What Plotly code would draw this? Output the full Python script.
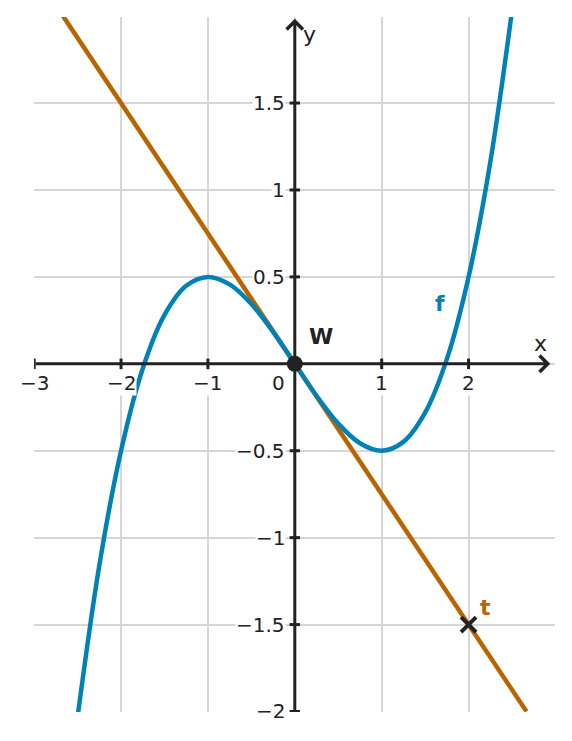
import plotly.graph_objects as go

f_x = [-2.5, -2.25, -2.0, -1.75, -1.5, -1.25, -1.0, -0.75, -0.5, -0.25, 0.0,
       0.25, 0.5, 0.75, 1.0, 1.25, 1.5, 1.75, 2.0, 2.25, 2.5]
f_y = [-2.031, -1.160, -0.5, -0.027, 0.281, 0.449, 0.5, 0.457, 0.344, 0.184, 0.0,
       -0.184, -0.344, -0.457, -0.5, -0.449, -0.281, 0.027, 0.5, 1.160, 2.031]
# tangent t through W
t_x = [-2.667, 2.667]
t_y = [2.0, -2.0]
W = (0.0, 0.0)
P = (2.0, -1.5)
x_ticks = [-3, -2, -1, 1, 2]
x_tick_labels = ["−3", "−2", "−1", "1", "2"]
y_ticks = [1.5, 1, 0.5, -0.5, -1, -1.5, -2]
y_tick_labels = ["1.5", "1", "0.5", "−0.5", "−1", "−1.5", "−2"]

BLUE = "#0082b6"
ORANGE = "#b86500"
DARK = "#222222"
FONT = "DejaVu Sans"
FS = 20

fig = go.Figure()
fig.add_trace(go.Scatter(x=t_x, y=t_y, mode="lines",
                         line=dict(color=ORANGE, width=4.5), hoverinfo="skip"))
fig.add_trace(go.Scatter(x=f_x, y=f_y, mode="lines",
                         line=dict(color=BLUE, width=4.5, shape="spline", smoothing=1.0),
                         hoverinfo="skip"))

shapes = []
# tick marks
for xv in x_ticks:
    shapes.append(dict(type="line", xref="x", yref="y", x0=xv, x1=xv, y0=-0.03, y1=0.03,
                       line=dict(color=DARK, width=3)))
for yv in y_ticks:
    shapes.append(dict(type="line", xref="x", yref="y", x0=-0.06, x1=0.06, y0=yv, y1=yv,
                       line=dict(color=DARK, width=3)))

annotations = []
# axes with arrows
annotations.append(dict(x=2.94, y=0, ax=-3.0, ay=0, xref="x", yref="y", axref="x", ayref="y",
                        showarrow=True, arrowhead=4, arrowsize=1.05, arrowwidth=3,
                        arrowcolor=DARK, text=""))
annotations.append(dict(x=0, y=1.985, ax=0, ay=-2.0, xref="x", yref="y", axref="x", ayref="y",
                        showarrow=True, arrowhead=4, arrowsize=1.05, arrowwidth=3,
                        arrowcolor=DARK, text=""))
for xv, lab in zip(x_ticks, x_tick_labels):
    annotations.append(dict(x=xv, y=-0.11, xref="x", yref="y", text=lab, showarrow=False,
                            font=dict(family=FONT, size=FS, color=DARK), bgcolor="white",
                            borderpad=0))
annotations.append(dict(x=-0.19, y=-0.11, xref="x", yref="y", text="0", showarrow=False,
                        font=dict(family=FONT, size=FS, color=DARK)))
for yv, lab in zip(y_ticks, y_tick_labels):
    annotations.append(dict(x=-0.1, y=yv, xref="x", yref="y", text=lab, showarrow=False,
                            xanchor="right", font=dict(family=FONT, size=FS, color=DARK),
                            bgcolor="white", borderpad=0))
annotations.append(dict(x=2.83, y=0.115, xref="x", yref="y", text="x", showarrow=False,
                        font=dict(family=FONT, size=22, color=DARK)))
annotations.append(dict(x=0.165, y=1.895, xref="x", yref="y", text="y", showarrow=False,
                        font=dict(family=FONT, size=22, color=DARK)))
annotations.append(dict(x=1.67, y=0.345, xref="x", yref="y", text="<b>f</b>", showarrow=False,
                        font=dict(family=FONT, size=22, color=BLUE)))
annotations.append(dict(x=2.2, y=-1.40, xref="x", yref="y", text="<b>t</b>", showarrow=False,
                        font=dict(family=FONT, size=22, color=ORANGE)))
annotations.append(dict(x=0.30, y=0.155, xref="x", yref="y", text="<b>W</b>", showarrow=False,
                        font=dict(family=FONT, size=22, color=DARK)))

fig.add_trace(go.Scatter(x=[W[0]], y=[W[1]], mode="markers",
                         marker=dict(color=DARK, size=16), hoverinfo="skip"))
fig.add_trace(go.Scatter(x=[P[0]], y=[P[1]], mode="markers",
                         marker=dict(symbol="x-thin", size=15, line=dict(color=DARK, width=4)),
                         hoverinfo="skip"))

fig.update_layout(
    width=564, height=733,
    margin=dict(l=26, r=17, t=9, b=29),
    paper_bgcolor="white", plot_bgcolor="white",
    showlegend=False,
    shapes=shapes, annotations=annotations,
    xaxis=dict(range=[-3.002, 2.995], dtick=1, tick0=0, showgrid=True, gridcolor="#d6d6d6",
               gridwidth=2, zeroline=False, showticklabels=False, ticks="", fixedrange=True),
    yaxis=dict(range=[-2.003, 1.995], dtick=0.5, tick0=0, showgrid=True, gridcolor="#d6d6d6",
               gridwidth=2, zeroline=False, showticklabels=False, ticks="", fixedrange=True),
)
fig.write_html("out.html")
